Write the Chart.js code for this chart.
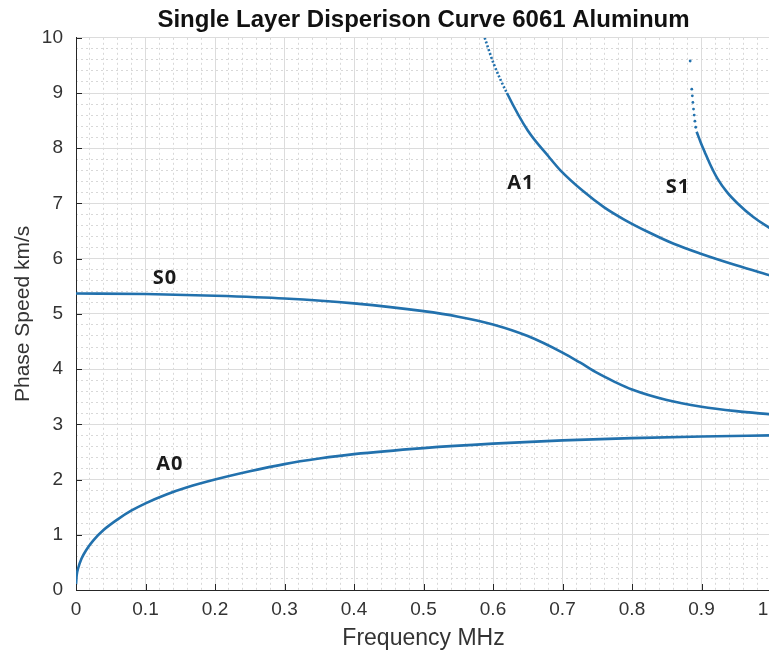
<!DOCTYPE html>
<html>
<head>
<meta charset="utf-8">
<title>Single Layer Disperison Curve 6061 Aluminum</title>
<script src="https://cdn.jsdelivr.net/npm/chart.js@4.4.1/dist/chart.umd.min.js"></script>
<style>
    html, body { margin: 0; padding: 0; background: #ffffff; overflow: hidden; }
    #wrap { position: relative; width: 800px; height: 658px; }
</style>
</head>
<body>
<div id="wrap"><canvas id="dispersion-chart"></canvas></div>
<script>
// values (frequency in MHz, phase speed in km/s)
const a0Freq = [0, 0.001, 0.003, 0.008, 0.015, 0.025, 0.04, 0.06, 0.08, 0.1, 0.13, 0.16, 0.2, 0.25, 0.3, 0.35, 0.4, 0.5, 0.6, 0.7, 0.8, 0.9, 1.0];
const a0Speed = [0.1, 0.27, 0.39, 0.57, 0.73, 0.9, 1.09, 1.28, 1.44, 1.57, 1.73, 1.86, 2.0, 2.15, 2.28, 2.38, 2.46, 2.57, 2.65, 2.71, 2.75, 2.78, 2.80];

const s0Freq = [0, 0.1, 0.2, 0.3, 0.4, 0.5, 0.55, 0.6, 0.65, 0.7, 0.725, 0.75, 0.775, 0.8, 0.85, 0.9, 0.95, 1.0];
const s0Speed = [5.37, 5.36, 5.33, 5.28, 5.19, 5.05, 4.95, 4.81, 4.6, 4.3, 4.12, 3.93, 3.77, 3.63, 3.44, 3.32, 3.24, 3.18];

const a1Freq = [0.588, 0.601, 0.62, 0.65, 0.68, 0.697, 0.73, 0.76, 0.79, 0.827, 0.86, 0.899, 0.95, 1.0];
const a1Speed = [10, 9.53, 9.0, 8.32, 7.85, 7.6, 7.22, 6.93, 6.7, 6.46, 6.27, 6.09, 5.88, 5.69];

const s1Freq = [0.893, 0.899, 0.905, 0.912, 0.923, 0.937, 0.952, 0.975, 1.0];
const s1Speed = [8.3, 8.1, 7.92, 7.72, 7.45, 7.2, 7.0, 6.75, 6.54];

// sparse samples at the top of S1
const s1DotFreq = [0.8837, 0.886, 0.8868, 0.8876, 0.8885, 0.8895, 0.8905, 0.8917];
const s1DotSpeed = [9.58, 9.07, 8.95, 8.83, 8.71, 8.6, 8.49, 8.38];

const modeNames = ['S0', 'A0', 'A1', 'S1'];
const modeLabelFreq = [0.128, 0.135, 0.64, 0.866];
const modeLabelSpeed = [5.64, 2.28, 7.36, 7.3];

const CURVE = '#2271ad';
const AXIS = '#262626';
const FONT = "'Liberation Sans', Arial, sans-serif";

function pairs(xs, ys) {
    return xs.map((x, i) => ({ x, y: ys[i] }));
}

function curve(label, xs, ys, extra) {
    return {
        label,
        data: pairs(xs, ys),
        showLine: true,
        borderColor: CURVE,
        backgroundColor: CURVE,
        borderWidth: 2.6,
        pointRadius: 0,
        cubicInterpolationMode: 'monotone',
        ...(extra || {}),
    };
}

const isMultiple = (value, step) => Math.abs(value / step - Math.round(value / step)) < 1e-6;

// MATLAB style ticks pointing into the plot
const innerTicks = {
    id: 'innerTicks',
    afterDatasetsDraw(chart) {
        const { ctx, chartArea, scales: { x, y } } = chart;
        ctx.save();
        ctx.strokeStyle = AXIS;
        ctx.lineWidth = 1;
        ctx.beginPath();
        x.ticks.forEach((t) => {
            const px = Math.round(x.getPixelForValue(t.value)) + 0.5;
            ctx.moveTo(px, chartArea.bottom);
            ctx.lineTo(px, chartArea.bottom - 6);
        });
        y.ticks.forEach((t) => {
            const py = Math.round(y.getPixelForValue(t.value)) + 0.5;
            ctx.moveTo(chartArea.left, py);
            ctx.lineTo(chartArea.left + 6, py);
        });
        ctx.stroke();
        ctx.restore();
    },
};

const modeLabels = {
    id: 'modeLabels',
    afterDatasetsDraw(chart) {
        const { ctx, scales: { x, y } } = chart;
        ctx.save();
        ctx.fillStyle = '#1a1a1a';
        ctx.font = "bold 20px 'Open Sans', sans-serif";
        ctx.letterSpacing = '1px';
        ctx.textAlign = 'center';
        ctx.textBaseline = 'middle';
        modeNames.forEach((name, i) => {
            ctx.fillText(name, x.getPixelForValue(modeLabelFreq[i]), y.getPixelForValue(modeLabelSpeed[i]));
        });
        ctx.restore();
    },
};

new Chart(document.getElementById('dispersion-chart'), {
    type: 'scatter',
    data: {
        datasets: [
            curve('A0', a0Freq, a0Speed),
            curve('S0', s0Freq, s0Speed),
            curve('A1', a1Freq, a1Speed, {
                segment: { borderDash: (ctx) => (ctx.p0.parsed.y > 9.5 ? [2, 2] : undefined) },
            }),
            curve('S1', s1Freq, s1Speed),
            {
                label: 'S1 samples',
                data: pairs(s1DotFreq, s1DotSpeed),
                showLine: false,
                pointRadius: 1.4,
                pointBorderWidth: 0,
                backgroundColor: CURVE,
            },
        ],
    },
    options: {
        responsive: true,
        maintainAspectRatio: false,
        animation: false,
        layout: { padding: { left: 0, right: 29, top: 0, bottom: 0 } },
        plugins: {
            legend: { display: false },
            tooltip: { enabled: false },
            title: {
                display: true,
                fullSize: false,
                text: 'Single Layer Disperison Curve 6061 Aluminum',
                color: '#111111',
                font: { family: FONT, size: 24, weight: 'bold' },
                padding: { top: 6, bottom: 3 },
            },
        },
        scales: {
            xm: {
                type: 'linear',
                position: 'bottom',
                min: 0,
                max: 1,
                ticks: { display: false, stepSize: 0.02 },
                grid: {
                    drawTicks: false,
                    color: (ctx) => (isMultiple(ctx.tick.value, 0.1) ? 'rgba(0,0,0,0)' : '#d8d8d8'),
                },
                border: { display: false, dash: [2, 3] },
                afterFit: (scale) => { scale.height = 0; },
            },
            ym: {
                type: 'linear',
                position: 'left',
                min: 0,
                max: 10,
                ticks: { display: false, stepSize: 0.2 },
                grid: {
                    drawTicks: false,
                    color: (ctx) => (isMultiple(ctx.tick.value, 1) ? 'rgba(0,0,0,0)' : '#d8d8d8'),
                },
                border: { display: false, dash: [2, 3] },
                afterFit: (scale) => { scale.width = 0; },
            },
            x: {
                type: 'linear',
                position: 'bottom',
                min: 0,
                max: 1,
                ticks: {
                    stepSize: 0.1,
                    autoSkip: false,
                    maxRotation: 0,
                    padding: 8,
                    color: '#333333',
                    font: { family: FONT, size: 19 },
                },
                grid: { drawTicks: false, color: '#dcdcdc' },
                border: { display: true, color: AXIS, width: 1 },
                title: {
                    display: true,
                    text: 'Frequency MHz',
                    color: '#333333',
                    font: { family: FONT, size: 23 },
                    padding: { top: 0, bottom: 6 },
                },
                afterFit: (scale) => { scale.height = 68; },
            },
            y: {
                type: 'linear',
                position: 'left',
                min: 0,
                max: 10,
                ticks: {
                    stepSize: 1,
                    autoSkip: false,
                    padding: 13,
                    color: '#333333',
                    font: { family: FONT, size: 19 },
                },
                grid: { drawTicks: false, color: '#dcdcdc' },
                border: { display: true, color: AXIS, width: 1 },
                title: {
                    display: true,
                    text: 'Phase Speed km/s',
                    color: '#333333',
                    font: { family: FONT, size: 21 },
                    padding: { top: 11, bottom: 0 },
                },
                afterFit: (scale) => { scale.width = 76; },
            },
        },
    },
    plugins: [innerTicks, modeLabels],
});
</script>
</body>
</html>
